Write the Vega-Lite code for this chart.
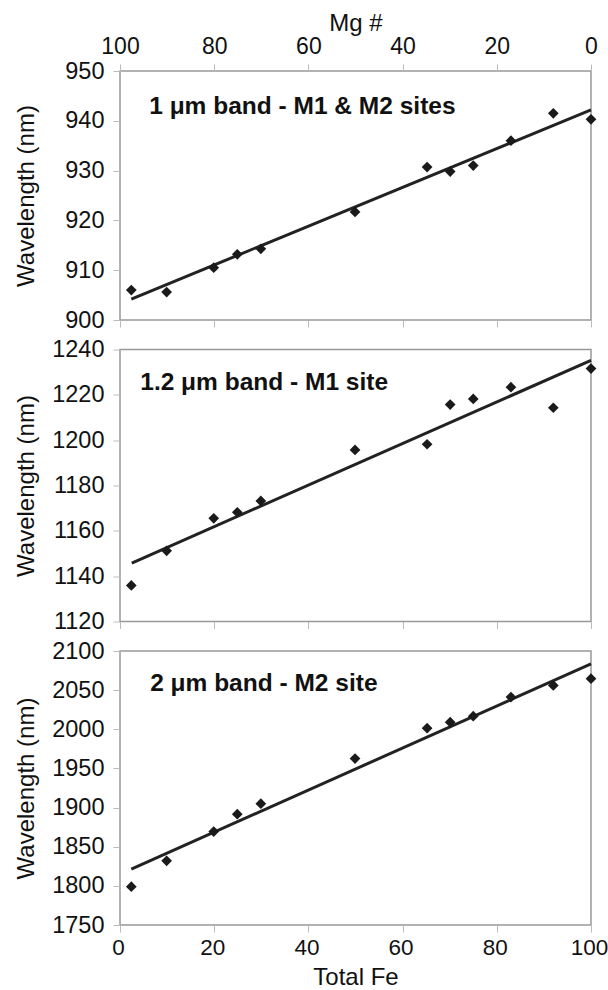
{
  "$schema": "https://vega.github.io/schema/vega-lite/v6.json",
  "autosize": {"type": "pad"},
  "padding": {"left": 13, "top": 10, "right": 0, "bottom": 0},
  "background": "white",
  "bounds": "flush",
  "spacing": 29.5,
  "config": {
    "font": "Liberation Sans",
    "view": {"stroke": "#999999", "strokeWidth": 1.5},
    "axis": {
      "domain": false,
      "grid": false,
      "tickColor": "#bbbbbb",
      "tickSize": 7,
      "labelFont": "Liberation Sans",
      "labelFontSize": 23.5,
      "labelColor": "#111111",
      "titleFont": "Liberation Sans",
      "titleFontSize": 24,
      "titleFontWeight": "normal",
      "titleColor": "#111111",
      "labelOverlap": false,
      "format": "d"
    },
    "axisX": {"labelFlush": false, "labelFontSize": 23},
    "axisY": {"labelPadding": 9, "titleX": -94, "titleBaseline": "middle"}
  },
  "datasets": {
    "points": [
      {"panel": 1, "fe": 2.4, "wl": 906.0},
      {"panel": 1, "fe": 9.9, "wl": 905.6},
      {"panel": 1, "fe": 19.9, "wl": 910.5},
      {"panel": 1, "fe": 24.9, "wl": 913.2},
      {"panel": 1, "fe": 29.9, "wl": 914.3},
      {"panel": 1, "fe": 49.9, "wl": 921.7},
      {"panel": 1, "fe": 65.2, "wl": 930.7},
      {"panel": 1, "fe": 70.1, "wl": 929.8},
      {"panel": 1, "fe": 75.0, "wl": 931.0},
      {"panel": 1, "fe": 83.0, "wl": 936.0},
      {"panel": 1, "fe": 92.0, "wl": 941.5},
      {"panel": 1, "fe": 100.0, "wl": 940.3},
      {"panel": 2, "fe": 2.4, "wl": 1135.9},
      {"panel": 2, "fe": 9.9, "wl": 1151.2},
      {"panel": 2, "fe": 19.9, "wl": 1165.5},
      {"panel": 2, "fe": 24.9, "wl": 1168.2},
      {"panel": 2, "fe": 29.9, "wl": 1173.2},
      {"panel": 2, "fe": 49.9, "wl": 1195.7},
      {"panel": 2, "fe": 65.2, "wl": 1198.2},
      {"panel": 2, "fe": 70.1, "wl": 1215.7},
      {"panel": 2, "fe": 75.0, "wl": 1218.2},
      {"panel": 2, "fe": 83.0, "wl": 1223.4},
      {"panel": 2, "fe": 92.0, "wl": 1214.3},
      {"panel": 2, "fe": 100.0, "wl": 1231.6},
      {"panel": 3, "fe": 2.4, "wl": 1799.0},
      {"panel": 3, "fe": 9.9, "wl": 1832.0},
      {"panel": 3, "fe": 19.9, "wl": 1869.4},
      {"panel": 3, "fe": 24.9, "wl": 1891.6},
      {"panel": 3, "fe": 29.9, "wl": 1904.9},
      {"panel": 3, "fe": 49.9, "wl": 1962.6},
      {"panel": 3, "fe": 65.2, "wl": 2001.4},
      {"panel": 3, "fe": 70.1, "wl": 2009.1},
      {"panel": 3, "fe": 75.0, "wl": 2016.8},
      {"panel": 3, "fe": 83.0, "wl": 2041.1},
      {"panel": 3, "fe": 92.0, "wl": 2056.0},
      {"panel": 3, "fe": 100.0, "wl": 2064.6}
    ],
    "fits": [
      {"panel": 1, "fe": 2.4, "wl": 904.2},
      {"panel": 1, "fe": 100.0, "wl": 942.2},
      {"panel": 2, "fe": 2.5, "wl": 1145.8},
      {"panel": 2, "fe": 100.0, "wl": 1235.2},
      {"panel": 3, "fe": 2.4, "wl": 1821.3},
      {"panel": 3, "fe": 100.0, "wl": 2083.6}
    ]
  },
  "vconcat": [
    {
      "width": 471,
      "height": 249,
      "layer": [
        {
          "data": {"name": "fits"},
          "transform": [{"filter": "datum.panel == 1"}],
          "mark": {"type": "line", "color": "#222222", "strokeWidth": 3},
          "encoding": {
            "x": {"field": "fe", "type": "quantitative", "scale": {"domain": [0, 100], "nice": false},
                  "axis": {"orient": "bottom", "labels": false, "title": null, "values": [0, 20, 40, 60, 80, 100], "tickCount": 20}},
            "y": {"field": "wl", "type": "quantitative", "scale": {"domain": [900, 950], "nice": false, "zero": false},
                  "axis": {"values": [900, 910, 920, 930, 940, 950], "title": "Wavelength (nm)", "tickCount": 20}}
          }
        },
        {
          "data": {"name": "points"},
          "transform": [{"filter": "datum.panel == 1"}],
          "mark": {"type": "point", "shape": "diamond", "filled": true, "color": "#1a1a1a", "size": 115, "opacity": 1},
          "encoding": {
            "x": {"field": "fe", "type": "quantitative",
                  "axis": {"orient": "top", "labelExpr": "format(100 - datum.value, 'd')", "title": "Mg #", "values": [0, 20, 40, 60, 80, 100], "tickCount": 20, "labelPadding": 6, "titleY": -48, "titleBaseline": "middle"}},
            "y": {"field": "wl", "type": "quantitative"}
          }
        },
        {
          "data": {"values": [{}]},
          "mark": {"type": "text", "text": "1 μm band - M1 & M2 sites", "font": "Liberation Sans", "fontSize": 24.5, "fontWeight": "bold", "align": "left", "baseline": "middle", "color": "#111111"},
          "encoding": {
            "x": {"datum": 6.2, "type": "quantitative", "axis": null},
            "y": {"datum": 942.8, "type": "quantitative"}
          }
        }
      ],
      "resolve": {"axis": {"x": "independent"}}
    },
    {
      "width": 471,
      "height": 272,
      "layer": [
        {
          "data": {"name": "fits"},
          "transform": [{"filter": "datum.panel == 2"}],
          "mark": {"type": "line", "color": "#222222", "strokeWidth": 3},
          "encoding": {
            "x": {"field": "fe", "type": "quantitative", "scale": {"domain": [0, 100], "nice": false},
                  "axis": {"labels": false, "title": null, "values": [0, 20, 40, 60, 80, 100], "tickCount": 20}},
            "y": {"field": "wl", "type": "quantitative", "scale": {"domain": [1120, 1240], "nice": false, "zero": false},
                  "axis": {"values": [1120, 1140, 1160, 1180, 1200, 1220, 1240], "title": "Wavelength (nm)", "tickCount": 20}}
          }
        },
        {
          "data": {"name": "points"},
          "transform": [{"filter": "datum.panel == 2"}],
          "mark": {"type": "point", "shape": "diamond", "filled": true, "color": "#1a1a1a", "size": 115, "opacity": 1},
          "encoding": {
            "x": {"field": "fe", "type": "quantitative"},
            "y": {"field": "wl", "type": "quantitative"}
          }
        },
        {
          "data": {"values": [{}]},
          "mark": {"type": "text", "text": "1.2 μm band - M1 site", "font": "Liberation Sans", "fontSize": 24.5, "fontWeight": "bold", "align": "left", "baseline": "middle", "color": "#111111"},
          "encoding": {
            "x": {"datum": 4.3, "type": "quantitative"},
            "y": {"datum": 1225.3, "type": "quantitative"}
          }
        }
      ]
    },
    {
      "width": 471,
      "height": 274,
      "layer": [
        {
          "data": {"name": "fits"},
          "transform": [{"filter": "datum.panel == 3"}],
          "mark": {"type": "line", "color": "#222222", "strokeWidth": 3},
          "encoding": {
            "x": {"field": "fe", "type": "quantitative", "scale": {"domain": [0, 100], "nice": false},
                  "axis": {"title": "Total Fe", "values": [0, 20, 40, 60, 80, 100], "tickCount": 20, "labelPadding": 4, "labelFontSize": 22.5, "labelOffset": -2, "titleY": 52, "titleBaseline": "middle"}},
            "y": {"field": "wl", "type": "quantitative", "scale": {"domain": [1750, 2100], "nice": false, "zero": false},
                  "axis": {"values": [1750, 1800, 1850, 1900, 1950, 2000, 2050, 2100], "title": "Wavelength (nm)", "tickCount": 20}}
          }
        },
        {
          "data": {"name": "points"},
          "transform": [{"filter": "datum.panel == 3"}],
          "mark": {"type": "point", "shape": "diamond", "filled": true, "color": "#1a1a1a", "size": 115, "opacity": 1},
          "encoding": {
            "x": {"field": "fe", "type": "quantitative"},
            "y": {"field": "wl", "type": "quantitative"}
          }
        },
        {
          "data": {"values": [{}]},
          "mark": {"type": "text", "text": "2 μm band - M2 site", "font": "Liberation Sans", "fontSize": 24.5, "fontWeight": "bold", "align": "left", "baseline": "middle", "color": "#111111"},
          "encoding": {
            "x": {"datum": 6.4, "type": "quantitative"},
            "y": {"datum": 2057.3, "type": "quantitative"}
          }
        }
      ]
    }
  ]
}
